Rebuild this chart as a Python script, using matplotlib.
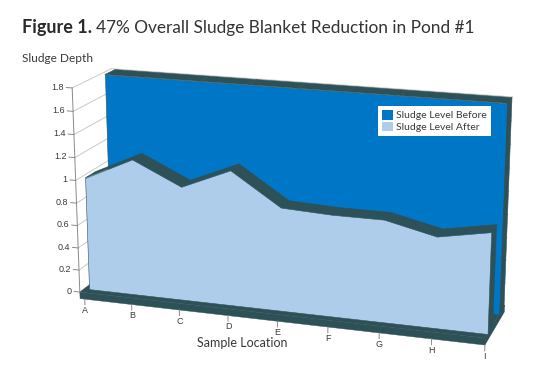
import matplotlib
matplotlib.use("Agg")
import matplotlib.pyplot as plt
import numpy as np
from matplotlib.patches import Patch
from mpl_toolkits.mplot3d.art3d import Poly3DCollection

# --- data ---
locations = ["A", "B", "C", "D", "E", "F", "G", "H", "I"]
level_before = [1.8, 1.8, 1.8, 1.8, 1.8, 1.8, 1.8, 1.8, 1.8]
level_after = [1.0, 1.2, 1.0, 1.18, 0.9, 0.88, 0.88, 0.78, 0.86]
depth_ticks = [0, 0.2, 0.4, 0.6, 0.8, 1, 1.2, 1.4, 1.6, 1.8]
series_names = ["Sludge Level Before", "Sludge Level After"]

C_BEFORE = "#0077C6"
C_AFTER = "#AECDEB"
C_DARK = "#2E5158"
C_GRID = "#C9C9C9"
C_TEXT = "#3A3A3A"

# depth layout of the 3d box
X0, X1 = -0.1, len(locations) - 1
Z_FLOOR, Z_TOP = -0.06, 1.8
SLAB = 0.45
Y_FRONT = -0.2
Y_AFTER, Y_BEFORE = 0.0, 1.0
Y_BACK = Y_BEFORE + SLAB + 0.05


def slab(values, y0, y1):
    """Front face, top strips and right end of one 3d area series."""
    n = len(values)
    front = [(0, y0, 0)] + [(i, y0, v) for i, v in enumerate(values)] + [(n - 1, y0, 0)]
    tops = [
        [(i, y0, values[i]), (i + 1, y0, values[i + 1]), (i + 1, y1, values[i + 1]), (i, y1, values[i])]
        for i in range(n - 1)
    ]
    end = [(n - 1, y0, 0), (n - 1, y1, 0), (n - 1, y1, values[-1]), (n - 1, y0, values[-1])]
    return front, tops + [end]


def add_polys(polys, **kw):
    coll = Poly3DCollection(polys, **kw)
    coll.set_clip_on(False)
    ax.add_collection3d(coll)


def add_line(xs, ys, zs, **kw):
    (ln,) = ax.plot(xs, ys, zs, **kw)
    ln.set_clip_on(False)


def add_label(x, y, z, s, **kw):
    """Place a flat text at the projected position of a 3d point."""
    v = ax.get_proj() @ np.array([x, y, z, 1.0])
    ax.text2D(v[0] / v[3], v[1] / v[3], s, transform=ax.transData, **kw)


fig = plt.figure(figsize=(5.58, 3.91), dpi=100)
ax = fig.add_axes([0.010, -0.027, 1.0, 1.0], projection="3d", computed_zorder=False)
ax.set_proj_type("persp", focal_length=0.8)
ax.view_init(elev=16.5, azim=-72)
ax.set_xlim(X0, X1)
ax.set_ylim(Y_FRONT, Y_BACK)
ax.set_zlim(Z_FLOOR, Z_TOP)
ax.set_box_aspect((7.19, 1.63, 3.77), zoom=1.21)
ax.set_axis_off()

# walls: gridlines on the side and back walls
for z in depth_ticks:
    add_line([X0, X0], [Y_FRONT, Y_BACK], [z, z], color=C_GRID, lw=0.7, zorder=1)
    add_line([X0, X1], [Y_BACK, Y_BACK], [z, z], color=C_GRID, lw=0.7, zorder=1)

# floor slab
floor = [
    [(X0, Y_FRONT, 0), (X1, Y_FRONT, 0), (X1, Y_BACK, 0), (X0, Y_BACK, 0)],
    [(X0, Y_FRONT, Z_FLOOR), (X1, Y_FRONT, Z_FLOOR), (X1, Y_FRONT, 0), (X0, Y_FRONT, 0)],
    [(X1, Y_FRONT, Z_FLOOR), (X1, Y_BACK, Z_FLOOR), (X1, Y_BACK, 0), (X1, Y_FRONT, 0)],
]
add_polys(floor, facecolor=C_DARK, edgecolor=C_DARK, lw=0.3, zorder=2)

# series: back one first, front one last
z = 3
for values, y0, color in [(level_before, Y_BEFORE, C_BEFORE), (level_after, Y_AFTER, C_AFTER)]:
    front, sides = slab(values, y0, y0 + SLAB)
    add_polys(sides, facecolor=C_DARK, edgecolor=C_DARK, lw=0.4, zorder=z)
    add_polys([front], facecolor=color, edgecolor=C_DARK, lw=0.4, zorder=z + 1)
    z += 2

# value axis at the front left corner
add_line([X0, X0], [Y_FRONT, Y_FRONT], [0, Z_TOP], color="#8A8A8A", lw=0.7, zorder=8)
for t in depth_ticks:
    add_line([X0, X0 - 0.12], [Y_FRONT, Y_FRONT], [t, t], color="#8A8A8A", lw=0.7, zorder=8)
    add_label(X0 - 0.17, Y_FRONT, t, f"{t:g}", ha="right", va="center", fontsize=6.5,
              color=C_TEXT, family="Liberation Sans", zorder=8)

# category axis under the floor edge
for i, name in enumerate(locations):
    add_line([i, i], [Y_FRONT, Y_FRONT], [Z_FLOOR, Z_FLOOR - 0.05], color="#8A8A8A", lw=0.7, zorder=8)
    add_label(i, Y_FRONT, Z_FLOOR - 0.10, name, ha="center", va="center", fontsize=6.5,
              color=C_TEXT, family="Liberation Sans", zorder=8)

# titles and labels
renderer = fig.canvas.get_renderer()
t1 = fig.text(0.04, 0.915, "Figure 1.", fontsize=13, fontweight="bold", color="#2A2A2A", family="Lato")
bb = t1.get_window_extent(renderer)
fig.text(bb.x1 / fig.bbox.width + 0.007, 0.915, "47% Overall Sludge Blanket Reduction in Pond #1",
         fontsize=12.4, color="#333333", family="Lato")
fig.text(0.04, 0.85, "Sludge Depth", fontsize=8.6, color=C_TEXT, family="Lato", va="center")
fig.text(0.435, 0.124, "Sample Location", fontsize=9, color=C_TEXT, family="Lato",
         ha="center", va="center")

handles = [Patch(facecolor=C_BEFORE, edgecolor="none"), Patch(facecolor=C_AFTER, edgecolor="none")]
fig.legend(handles, series_names, loc="upper left", bbox_to_anchor=(0.668, 0.742), frameon=True,
           fancybox=False, edgecolor="none", facecolor="white", framealpha=1,
           prop={"family": "Lato", "size": 7.5}, handlelength=1.0,
           handleheight=1.0, handletextpad=0.3, labelspacing=0.1, borderpad=0.4,
           labelcolor=C_TEXT)

fig.savefig("out.png", dpi=100)
